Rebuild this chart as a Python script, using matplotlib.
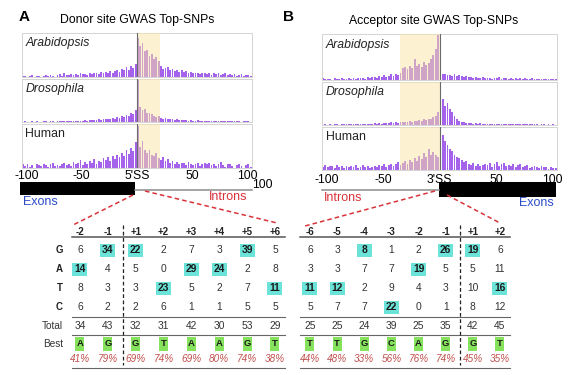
import numpy as np
import matplotlib
matplotlib.use("Agg")
import matplotlib.pyplot as plt
from matplotlib.patches import Rectangle

plt.rcParams['font.family'] = ['Liberation Sans', 'DejaVu Sans']

W, H = 569, 375

# ---- SNP profiles: relative counts in ~2 nt bins from -104 to +104 around the splice site ----
donor_arabidopsis = [2, 3, 0, 2, 4, 0, 3, 2, 0, 3, 4, 2, 5, 3, 0, 4, 6, 3, 9, 4,
                     5, 6, 4, 7, 5, 8, 6, 7, 5, 9, 7, 10, 8, 6, 12, 9, 11, 8, 14, 10,
                     13, 16, 11, 18, 15, 22, 17, 24, 20, 30, 88, 70, 78, 58, 62, 48, 52, 42, 45, 36,
                     25, 18, 20, 22, 16, 19, 14, 16, 12, 15, 11, 13, 9, 12, 8, 10, 9, 7, 10, 8,
                     6, 9, 5, 8, 7, 10, 5, 6, 8, 4, 6, 4, 7, 3, 5, 6, 3, 5, 4, 3]
donor_drosophila = [1, 2, 1, 1, 2, 1, 2, 1, 1, 2, 2, 1, 2, 2, 1, 2, 2, 3, 2, 2,
                    2, 3, 2, 3, 3, 2, 3, 4, 3, 4, 4, 5, 4, 6, 5, 7, 6, 8, 7, 9,
                    8, 11, 10, 13, 12, 16, 14, 20, 18, 28, 98, 35, 28, 30, 22, 20, 18, 15, 12, 14,
                    9, 8, 10, 7, 6, 7, 5, 6, 5, 4, 4, 5, 3, 4, 3, 3, 4, 3, 2, 3,
                    3, 2, 3, 2, 2, 3, 2, 2, 3, 2, 2, 2, 3, 2, 2, 1, 2, 2, 2, 1]
donor_human = [8, 5, 10, 3, 7, 0, 9, 6, 4, 10, 6, 3, 8, 11, 5, 7, 4, 9, 12, 6,
               10, 5, 14, 8, 12, 18, 7, 13, 9, 16, 12, 20, 10, 17, 14, 22, 18, 25, 15, 28,
               20, 30, 24, 35, 28, 40, 32, 45, 38, 58, 95, 48, 62, 40, 35, 42, 30, 28, 34, 22,
               18, 25, 15, 20, 12, 16, 10, 14, 8, 12, 11, 7, 13, 9, 6, 10, 12, 5, 9, 11,
               8, 12, 6, 10, 4, 9, 13, 7, 3, 8, 10, 5, 0, 7, 9, 4, 0, 6, 10, 3]
acceptor_arabidopsis = [4, 2, 3, 3, 1, 4, 3, 2, 4, 3, 3, 4, 2, 5, 3, 4, 4, 5, 3, 6,
                        5, 7, 6, 4, 8, 6, 10, 7, 9, 12, 8, 14, 10, 16, 26, 28, 25, 30, 27, 45,
                        30, 34, 28, 40, 32, 38, 45, 55, 68, 97, 14, 12, 13, 10, 11, 9, 12, 8, 10, 9,
                        7, 8, 6, 7, 5, 6, 5, 4, 6, 5, 4, 5, 3, 5, 4, 6, 3, 4, 5, 3,
                        4, 3, 5, 2, 4, 3, 4, 2, 3, 4, 2, 3, 2, 3, 2, 3, 2, 2, 3, 2]
acceptor_drosophila = [1, 2, 1, 2, 1, 2, 2, 1, 2, 2, 2, 3, 2, 2, 3, 2, 3, 3, 2, 3,
                       3, 2, 4, 3, 5, 3, 4, 5, 4, 6, 5, 6, 5, 7, 6, 8, 7, 9, 8, 10,
                       9, 11, 10, 13, 12, 15, 14, 18, 22, 30, 97, 60, 45, 50, 38, 30, 22, 15, 10, 8,
                       6, 5, 4, 5, 3, 4, 3, 4, 3, 3, 3, 2, 3, 3, 2, 3, 2, 3, 2, 2,
                       3, 2, 2, 3, 2, 2, 3, 2, 2, 2, 2, 2, 1, 2, 2, 1, 2, 1, 2, 1]
acceptor_human = [8, 12, 6, 10, 9, 4, 11, 7, 10, 5, 9, 6, 10, 8, 12, 5, 7, 11, 6, 9,
                  4, 8, 10, 6, 12, 9, 14, 7, 11, 15, 10, 13, 18, 12, 16, 20, 15, 24, 18, 28,
                  22, 32, 26, 40, 30, 48, 36, 42, 34, 30, 88, 82, 68, 58, 50, 44, 36, 30, 28, 24,
                  18, 22, 15, 12, 16, 10, 14, 9, 12, 15, 11, 16, 8, 13, 18, 10, 14, 17, 9, 12,
                  10, 13, 7, 11, 15, 6, 9, 12, 5, 8, 10, 7, 4, 9, 6, 8, 3, 7, 5, 4]

species = ['Arabidopsis', 'Drosophila', 'Human']
donor_band = (0, 21)
acceptor_band = (-35, 0)
tick_pos = [-100, -50, 0, 50, 100]
donor_ticks = ['-100', '-50', "5'SS", '50', '100']
acceptor_ticks = ['-100', '-50', "3'SS", '50', '100']

# ---- nucleotide count tables ----
bases = ['G', 'A', 'T', 'C']
donor_cols = ['-2', '-1', '+1', '+2', '+3', '+4', '+5', '+6']
donor_counts = [[6, 34, 22, 2, 7, 3, 39, 5],
                [14, 4, 5, 0, 29, 24, 2, 8],
                [8, 3, 3, 23, 5, 2, 7, 11],
                [6, 2, 2, 6, 1, 1, 5, 5]]
donor_total = [34, 43, 32, 31, 42, 30, 53, 29]
donor_best = ['A', 'G', 'G', 'T', 'A', 'A', 'G', 'T']
donor_pct = ['41%', '79%', '69%', '74%', '69%', '80%', '74%', '38%']

acceptor_cols = ['-6', '-5', '-4', '-3', '-2', '-1', '+1', '+2']
acceptor_counts = [[6, 3, 8, 1, 2, 26, 19, 6],
                   [3, 3, 7, 7, 19, 5, 5, 11],
                   [11, 12, 2, 9, 4, 3, 10, 16],
                   [5, 7, 7, 22, 0, 1, 8, 12]]
acceptor_total = [25, 25, 24, 39, 25, 35, 42, 45]
acceptor_best = ['T', 'T', 'G', 'C', 'A', 'G', 'G', 'T']
acceptor_pct = ['44%', '48%', '33%', '56%', '76%', '74%', '45%', '35%']

PURPLE = '#a463ea'
YELLOW = '#fbe6a6'
CYAN = '#6be3d9'
GREEN = '#86e25c'
PCT_RED = '#c0504d'
LINE_RED = '#d9333a'
BLUE = '#2b4cc9'

fig = plt.figure(figsize=(W / 100, H / 100), dpi=100)

# overlay axes in pixel coordinates for the schematic and tables
ov = fig.add_axes([0, 0, 1, 1])
ov.set_xlim(0, W)
ov.set_ylim(H, 0)
ov.axis('off')


def px_axes(x0, y0, x1, y1):
    return fig.add_axes([x0 / W, 1 - y1 / H, (x1 - x0) / W, (y1 - y0) / H])


def draw_hist(ax, vals, band, label):
    edges = np.linspace(-104, 104, len(vals) + 1)
    ax.bar(edges[:-1], vals, width=np.diff(edges) * 0.8, align='edge', color=PURPLE, linewidth=0)
    ax.axvspan(band[0], band[1], color=YELLOW, alpha=0.5, lw=0, zorder=3)
    ax.axvline(0, color='#6a6a6a', lw=0.8, zorder=4)
    ax.set_xlim(-104, 104)
    ax.set_ylim(0, 100)
    ax.set_xticks([])
    ax.set_yticks([])
    for s in ax.spines.values():
        s.set_color('#d4d4d4')
        s.set_linewidth(0.7)
    ax.text(0.015, 0.90, label, transform=ax.transAxes, ha='left', va='top',
            fontsize=8.8, style='normal' if label == 'Human' else 'italic', color='#222222')


def draw_panel(x0, x1, rows, profiles, band, ticks, pad):
    axes = []
    for (y0, y1), vals, name in zip(rows, profiles, species):
        ax = px_axes(x0, y0, x1, y1)
        draw_hist(ax, vals, band, name)
        axes.append(ax)
    axes[-1].set_xticks(tick_pos)
    axes[-1].set_xticklabels(ticks, fontsize=8.8)
    axes[-1].tick_params(axis='x', length=0, pad=pad)
    return axes


draw_panel(22, 252, [(33, 77), (79, 122), (124, 168)],
           [donor_arabidopsis, donor_drosophila, donor_human], donor_band, donor_ticks, 1.8)
draw_panel(322, 557, [(34, 80), (82, 125), (127, 170)],
           [acceptor_arabidopsis, acceptor_drosophila, acceptor_human], acceptor_band, acceptor_ticks, 2.8)

# titles and panel letters
ov.text(24, 17, 'A', fontsize=11, fontweight='bold', ha='center', va='center')
ov.text(289, 17, 'B', fontsize=11, fontweight='bold', ha='center', va='center')
ov.text(137, 20, 'Donor site GWAS Top-SNPs', fontsize=8.8, ha='center', va='center')
ov.text(434, 21, 'Acceptor site GWAS Top-SNPs', fontsize=8.8, ha='center', va='center')
ov.text(262, 185, '100', fontsize=8.8, ha='center', va='center')

# gene model schematic
ov.add_patch(Rectangle((20, 182), 115, 13, color='black', lw=0))
ov.plot([135, 252], [190, 190], color='#8c8c8c', lw=1.1)
ov.add_patch(Rectangle((439, 182), 117, 15, color='black', lw=0))
ov.plot([322, 439], [190, 190], color='#8c8c8c', lw=1.1)

ov.text(40, 202, 'Exons', color=BLUE, fontsize=9, ha='center', va='center')
ov.text(228, 197, 'Introns', color=LINE_RED, fontsize=9, ha='center', va='center')
ov.text(343, 198, 'Introns', color=LINE_RED, fontsize=9, ha='center', va='center')
ov.text(536, 203, 'Exons', color=BLUE, fontsize=9, ha='center', va='center')

dash = dict(color=LINE_RED, lw=1.1, linestyle=(0, (3, 2)))
ov.plot([133, 73], [195, 225], **dash)
ov.plot([145, 277], [191, 223], **dash)
ov.plot([435, 305], [191, 226], **dash)
ov.plot([447, 500], [195, 223], **dash)

# tables
y_head = 232
y_rows = [250, 269, 288, 307]
y_total = 326
y_best = 344
y_pct = 359


def draw_table(col_x, cols, counts, total, best, pct, split_x, lx0, lx1):
    counts = np.array(counts)
    top = counts.argmax(axis=0)
    for j, x in enumerate(col_x):
        ov.text(x, y_head, cols[j], fontsize=7, fontweight='bold', ha='center', va='center', color='#222222')
        for i, y in enumerate(y_rows):
            if top[j] == i:
                ov.add_patch(Rectangle((x - 7.5, y - 6.5), 15, 13, color=CYAN, lw=0))
                ov.text(x, y, str(counts[i, j]), fontsize=7.4, fontweight='bold',
                        ha='center', va='center', color='#1a1a1a')
            else:
                ov.text(x, y, str(counts[i, j]), fontsize=7.4, ha='center', va='center', color='#333333')
        ov.text(x, y_total, str(total[j]), fontsize=7.4, ha='center', va='center', color='#333333')
        ov.add_patch(Rectangle((x - 4.5, y_best - 7), 9, 14, color=GREEN, lw=0))
        ov.text(x, y_best, best[j], fontsize=6.8, fontweight='bold', ha='center', va='center', color='#1a1a1a')
        ov.text(x, y_pct, pct[j], fontsize=7.2, style='italic', ha='center', va='center', color=PCT_RED)
    ov.plot([lx0, lx1], [237, 237], color='#555555', lw=1.1)
    for yl in (317, 335, 368):
        ov.plot([lx0, lx1], [yl, yl], color='#666666', lw=0.8)
    ov.plot([split_x, split_x], [225, 365], color='#222222', lw=0.9, linestyle=(0, (3, 2)))


draw_table(np.linspace(80, 275, 8), donor_cols, donor_counts, donor_total, donor_best, donor_pct, 123, 72, 285)
draw_table(np.linspace(310, 500, 8), acceptor_cols, acceptor_counts, acceptor_total, acceptor_best,
           acceptor_pct, 460, 300, 510)

for b, y in zip(bases, y_rows):
    ov.text(63, y, b, fontsize=7, fontweight='bold', ha='right', va='center', color='#222222')
ov.text(63, y_total, 'Total', fontsize=7.2, ha='right', va='center', color='#333333')
ov.text(63, y_best, 'Best', fontsize=7.2, ha='right', va='center', color='#333333')

fig.savefig('out.png', dpi=100)
